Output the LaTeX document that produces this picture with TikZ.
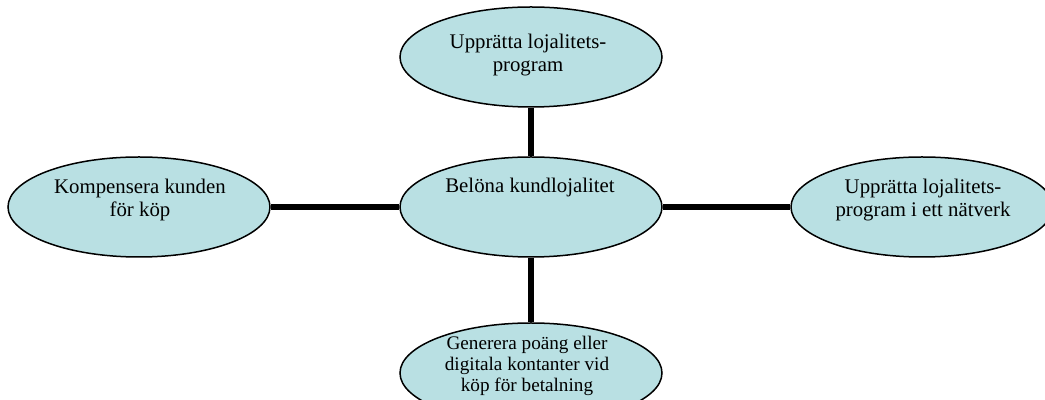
\documentclass[tikz,border=0pt]{standalone}
\usepackage{fontspec}
\setmainfont{Liberation Serif}
\usetikzlibrary{shapes.geometric}
\definecolor{bubblefill}{RGB}{185,224,227}
\begin{document}
\begin{tikzpicture}[x=0.5pt,y=-0.5pt,
  bubble/.style={ellipse, draw=black, line width=0.75pt, fill=bubblefill,
    minimum width=131pt, minimum height=50pt, inner sep=0pt},
  % multi-line text: the base anchor sits on the last line
  bubbletext/.style={align=center, inner sep=0pt, anchor=base,
    font=\fontsize{10.4pt}{11.9pt}\selectfont},
  smalltext/.style={bubbletext, font=\fontsize{9.6pt}{10.5pt}\selectfont},
  link/.style={line width=3pt}]
\useasboundingbox (0,0) rectangle (1045,400);

\coordinate (ptop) at (531,57);
\coordinate (phub) at (531,207);
\coordinate (pleft) at (139,207);
\coordinate (pright) at (922,207);
\coordinate (pbottom) at (531,373);

\node[bubble] (top) at (ptop) {};
\node[bubble] (hub) at (phub) {};
\node[bubble] (left) at (pleft) {};
\node[bubble] (right) at (pright) {};
\node[bubble] (bottom) at (pbottom) {};

\draw[link] (top) -- (hub);
\draw[link] (left) -- (hub);
\draw[link] (hub) -- (right);
\draw[link] (hub) -- (bottom);

\node[bubbletext] (ttop) at (528,72) {Upprätta lojalitets-\\program};
\node[bubbletext] (thub) at (530,193) {Belöna kundlojalitet};
\node[bubbletext] (tleft) at (140,217) {Kompensera kunden\\för köp};
\node[bubbletext] (tright) at (923,217) {Upprätta lojalitets-\\program i ett nätverk};
\node[smalltext] (tbottom) at (527,392) {Generera poäng eller\\digitala kontanter vid\\köp för betalning};
\end{tikzpicture}
\end{document}
